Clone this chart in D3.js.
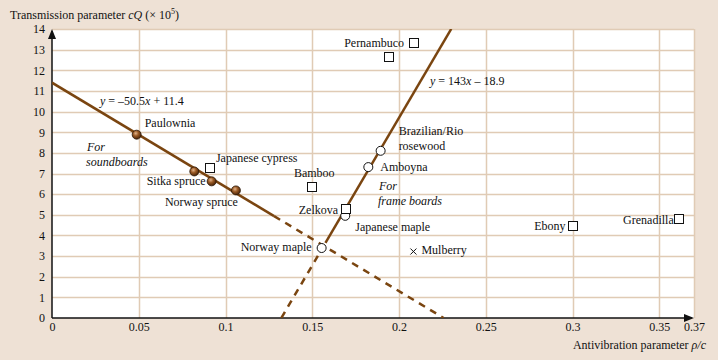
<!DOCTYPE html>
<html>
<head>
<meta charset="utf-8">
<script src="https://cdn.jsdelivr.net/npm/d3@7"></script>
<style>
  html, body { margin: 0; padding: 0; background: #eee1d5; }
  svg { display: block; font-family: "Liberation Serif", "DejaVu Serif", serif; }
  text { fill: #111; }
</style>
</head>
<body>
<div id="graphicContainer"></div>
<script>

// --- data ---

const xTickValues = [0, 0.05, 0.1, 0.15, 0.2, 0.25, 0.3, 0.35, 0.37]
const xTickLabels = ["0", "0.05", "0.1", "0.15", "0.2", "0.25", "0.3", "0.35", "0.37"]
const yTickValues = [0, 1, 2, 3, 4, 5, 6, 7, 8, 9, 10, 11, 12, 13, 14]

// soundboard woods (filled spheres)
const sphereNames = ["Paulownia", "", "Sitka spruce", "Norway spruce"]
const sphereX = [0.0488, 0.082, 0.092, 0.106]
const sphereY = [8.88, 7.10, 6.62, 6.18]

// frame board woods (open circles)
const circleNames = ["Brazilian/Rio|rosewood", "Amboyna", "Japanese maple", "Norway maple"]
const circleX = [0.1894, 0.1823, 0.169, 0.1554]
const circleY = [8.10, 7.31, 4.95, 3.39]

// other woods (open squares)
const squareNames = ["Pernambuco", "", "Japanese cypress", "Bamboo", "Zelkova", "Ebony", "Grenadilla"]
const squareX = [0.2087, 0.1944, 0.091, 0.150, 0.1695, 0.300, 0.3612]
const squareY = [13.32, 12.62, 7.26, 6.37, 5.28, 4.44, 4.79]

// crosses
const crossNames = ["Mulberry"]
const crossX = [0.2083]
const crossY = [3.22]

// fitted lines y = slope * x + intercept
const lineSlopes = [-50.5, 143]
const lineIntercepts = [11.4, -18.9]
const lineSolid = [[0, 0.128], [0.1576, 0.2301]]
const lineDashed = [[0.128, 0.2257], [0.1322, 0.1576]]

// --- layout ---

const width = 718, height = 360
const margin = { left: 52, top: 29, right: 24, bottom: 42 }
const brown = "#7a4510"
const gridColour = "#e0cbb5"

// label placement: [dx, dy, anchor] relative to the mark
const labelPlace = {
  "Paulownia": [8, -8, "start"],
  "Sitka spruce": [-6, 4, "end"],
  "Norway spruce": [2, 16, "end"],
  "Brazilian/Rio|rosewood": [18, -16, "start"],
  "Amboyna": [12, 4, "start"],
  "Japanese maple": [10, 15, "start"],
  "Norway maple": [-10, 3, "end"],
  "Pernambuco": [-10, 4, "end"],
  "Japanese cypress": [6, -6, "start"],
  "Bamboo": [2, -10, "middle"],
  "Zelkova": [-8, 5, "end"],
  "Ebony": [-7, 4, "end"],
  "Grenadilla": [-5, 5, "end"],
  "Mulberry": [8, 2, "start"]
}

const svg = d3.select("#graphicContainer")
  .append("svg")
  .attr("width", width)
  .attr("height", height)

svg.append("rect")
  .attr("width", width)
  .attr("height", height)
  .attr("fill", "#eee1d5")

const x = d3.scaleLinear().domain([0, 0.37]).range([margin.left, width - margin.right])
const y = d3.scaleLinear().domain([0, 14]).range([height - margin.bottom, margin.top])

// plot background
svg.append("rect")
  .attr("x", x(0))
  .attr("y", y(14))
  .attr("width", x(0.37) - x(0))
  .attr("height", y(0) - y(14))
  .attr("fill", "#fff")

// grid
svg.append("g")
  .selectAll("line")
  .data(xTickValues.slice(1))
  .enter()
  .append("line")
  .attr("x1", d => Math.round(x(d)) + 0.5)
  .attr("x2", d => Math.round(x(d)) + 0.5)
  .attr("y1", y(0))
  .attr("y2", y(14))
  .attr("stroke", gridColour)
  .attr("stroke-width", 1.5)

svg.append("g")
  .selectAll("line")
  .data(yTickValues.slice(1))
  .enter()
  .append("line")
  .attr("x1", x(0))
  .attr("x2", x(0.37))
  .attr("y1", d => Math.round(y(d)) + 0.5)
  .attr("y2", d => Math.round(y(d)) + 0.5)
  .attr("stroke", gridColour)
  .attr("stroke-width", 1.5)

// axes
const xAxis = d3.axisBottom(x)
  .tickValues(xTickValues)
  .tickFormat((d, i) => xTickLabels[i])
  .tickSize(0)
  .tickPadding(4)

const yAxis = d3.axisLeft(y)
  .tickValues(yTickValues)
  .tickFormat(d3.format("d"))
  .tickSize(0)
  .tickPadding(7)

const gx = svg.append("g")
  .attr("transform", `translate(0,${y(0)})`)
  .call(xAxis)
gx.select(".domain").remove()
gx.selectAll("text").attr("font-size", 12).attr("font-family", "Liberation Serif").attr("fill", "#111")

const gy = svg.append("g")
  .attr("transform", `translate(${x(0)},0)`)
  .call(yAxis)
gy.select(".domain").remove()
gy.selectAll("text").attr("font-size", 12).attr("font-family", "Liberation Serif").attr("fill", "#111")

svg.append("line")
  .attr("x1", x(0)).attr("x2", x(0.37) - 2)
  .attr("y1", y(0)).attr("y2", y(0))
  .attr("stroke", "#111").attr("stroke-width", 1.5)

svg.append("line")
  .attr("x1", x(0)).attr("x2", x(0))
  .attr("y1", y(0)).attr("y2", y(14) + 2)
  .attr("stroke", "#111").attr("stroke-width", 1.5)

// arrow heads
svg.append("path")
  .attr("d", `M${x(0)},${y(14)} l-4,10 l8,0 z`)
  .attr("fill", "#111")

svg.append("path")
  .attr("d", `M${x(0.37)},${y(0)} l-10,-4 l0,8 z`)
  .attr("fill", "#111")

// axis titles
const yTitle = svg.append("text")
  .attr("x", 10)
  .attr("y", 19)
  .attr("font-size", 12)
yTitle.append("tspan").text("Transmission parameter ")
yTitle.append("tspan").attr("font-style", "italic").text("cQ")
yTitle.append("tspan").text(" (× 10")
yTitle.append("tspan").attr("font-size", 8).attr("dy", -5).text("5")
yTitle.append("tspan").attr("dy", 5).text(")")

const xTitle = svg.append("text")
  .attr("x", 706)
  .attr("y", 349)
  .attr("text-anchor", "end")
  .attr("font-size", 12)
xTitle.append("tspan").text("Antivibration parameter ")
xTitle.append("tspan").attr("font-style", "italic").text("ρ/c")

// fitted lines
const clip = svg.append("defs").append("clipPath").attr("id", "plotClip")
clip.append("rect")
  .attr("x", x(0)).attr("y", y(14))
  .attr("width", x(0.37) - x(0)).attr("height", y(0) - y(14))

const lines = svg.append("g").attr("clip-path", "url(#plotClip)")

lineSlopes.forEach((m, i) => {
  const b = lineIntercepts[i]
  const seg = (r, dashed) => {
    lines.append("line")
      .attr("x1", x(r[0])).attr("y1", y(m * r[0] + b))
      .attr("x2", x(r[1])).attr("y2", y(m * r[1] + b))
      .attr("stroke", brown)
      .attr("stroke-width", 2.5)
      .attr("stroke-dasharray", dashed ? "7,6" : null)
  }
  seg(lineSolid[i], false)
  seg(lineDashed[i], true)
})

// sphere gradient
const grad = svg.select("defs").append("radialGradient")
  .attr("id", "sphere")
  .attr("cx", "40%").attr("cy", "35%").attr("r", "65%")
grad.append("stop").attr("offset", "0%").attr("stop-color", "#e2b48c")
grad.append("stop").attr("offset", "45%").attr("stop-color", "#9a5a25")
grad.append("stop").attr("offset", "100%").attr("stop-color", "#4a2408")

const marks = svg.append("g")

// labels helper
function addLabel(name, px, py) {
  if (!name) return
  const p = labelPlace[name] || [6, 4, "start"]
  const parts = name.split("|")
  const t = marks.append("text")
    .attr("x", px + p[0])
    .attr("y", py + p[1])
    .attr("text-anchor", p[2])
    .attr("font-size", 12)
  parts.forEach((s, j) => {
    t.append("tspan").attr("x", px + p[0]).attr("dy", j ? 15 : 0).text(s)
  })
}

sphereX.forEach((d, i) => {
  marks.append("circle")
    .attr("cx", x(d)).attr("cy", y(sphereY[i]))
    .attr("r", 4.5)
    .attr("fill", "url(#sphere)")
    .attr("stroke", "#2a1505")
    .attr("stroke-width", 0.8)
  addLabel(sphereNames[i], x(d), y(sphereY[i]))
})

circleX.forEach((d, i) => {
  marks.append("circle")
    .attr("cx", x(d)).attr("cy", y(circleY[i]))
    .attr("r", 4.5)
    .attr("fill", "#fff")
    .attr("stroke", "#111")
    .attr("stroke-width", 1)
  addLabel(circleNames[i], x(d), y(circleY[i]))
})

squareX.forEach((d, i) => {
  marks.append("rect")
    .attr("x", Math.round(x(d)) - 4.5).attr("y", Math.round(y(squareY[i])) - 4.5)
    .attr("width", 9).attr("height", 9)
    .attr("fill", "#fff")
    .attr("stroke", "#111")
    .attr("stroke-width", 1)
  addLabel(squareNames[i], x(d), y(squareY[i]))
})

crossX.forEach((d, i) => {
  const cx = x(d), cy = y(crossY[i])
  marks.append("path")
    .attr("d", `M${cx - 3},${cy - 3}L${cx + 3},${cy + 3}M${cx - 3},${cy + 3}L${cx + 3},${cy - 3}`)
    .attr("stroke", "#111")
    .attr("stroke-width", 1)
  addLabel(crossNames[i], cx, cy)
})

// equations and group notes
const eq1 = svg.append("text").attr("x", 100).attr("y", 105).attr("font-size", 12)
eq1.append("tspan").attr("font-style", "italic").text("y")
eq1.append("tspan").text(" = –50.5")
eq1.append("tspan").attr("font-style", "italic").text("x")
eq1.append("tspan").text(" + 11.4")

const eq2 = svg.append("text").attr("x", 430).attr("y", 85).attr("font-size", 12)
eq2.append("tspan").attr("font-style", "italic").text("y")
eq2.append("tspan").text(" = 143")
eq2.append("tspan").attr("font-style", "italic").text("x")
eq2.append("tspan").text(" – 18.9")

const note1 = svg.append("text").attr("font-size", 12).attr("font-style", "italic")
note1.append("tspan").attr("x", 87).attr("y", 151).text("For")
note1.append("tspan").attr("x", 86).attr("y", 166).text("soundboards")

const note2 = svg.append("text").attr("font-size", 12).attr("font-style", "italic")
note2.append("tspan").attr("x", 379).attr("y", 190).text("For")
note2.append("tspan").attr("x", 378).attr("y", 205).text("frame boards")

</script>
</body>
</html>
